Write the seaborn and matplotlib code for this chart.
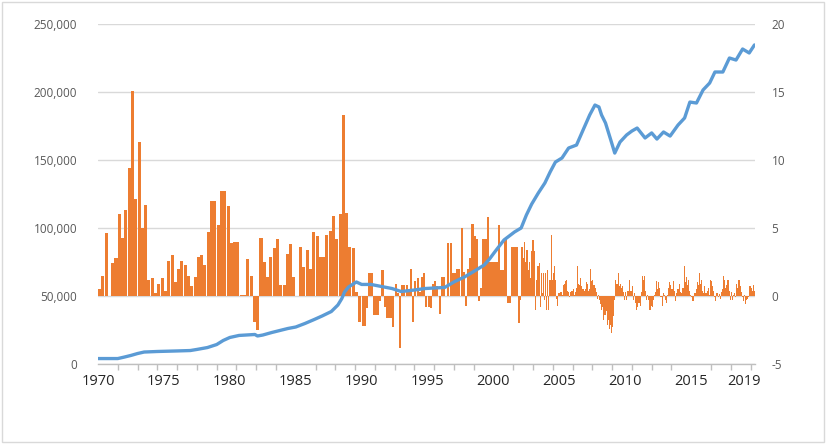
import numpy as np
import pandas as pd
import matplotlib
matplotlib.use("Agg")
import matplotlib.pyplot as plt
from matplotlib.ticker import FuncFormatter, FixedLocator
from matplotlib.patches import Rectangle
import seaborn as sns

# ---------------- data ----------------
# blue line (left axis): level
line_years = [1970.0, 1971.5, 1972.0, 1972.5, 1973.0, 1973.5, 1974.5, 1976.0, 1977.0, 1977.5,
              1978.3, 1979.0, 1979.5, 1980.0, 1980.7, 1981.9, 1982.1, 1982.5, 1983.2, 1984.4,
              1985.0, 1985.7, 1986.4, 1987.0, 1987.7, 1988.2, 1988.5, 1988.7, 1989.0, 1989.6,
              1990.0, 1990.7, 1991.5, 1992.3, 1993.0, 1994.0, 1994.8, 1996.3, 1997.0, 1997.8,
              1998.5, 1999.3, 1999.7, 2000.1, 2000.8, 2001.6, 2002.1, 2002.5, 2002.9, 2003.4,
              2003.9, 2004.3, 2004.7, 2005.2, 2005.7, 2006.3, 2006.8, 2007.3, 2007.7, 2008.0,
              2008.2, 2008.5, 2008.9, 2009.2, 2009.6, 2010.1, 2010.5, 2010.9, 2011.5, 2012.0,
              2012.4, 2012.9, 2013.4, 2014.0, 2014.5, 2014.9, 2015.4, 2015.9, 2016.4, 2016.8,
              2017.4, 2017.9, 2018.4, 2018.9, 2019.4, 2019.8]
line_values = [4000, 4000, 5100, 6300, 7700, 8800, 9200, 9600, 9900, 10700,
               12100, 14300, 17300, 19500, 21000, 21700, 20600, 21300, 23200, 26100,
               27200, 29800, 32700, 35300, 38600, 43400, 48200, 52900, 56600, 60300,
               58500, 58500, 57000, 55500, 53300, 54400, 55500, 56300, 60300, 64000,
               68000, 72800, 77200, 82400, 91200, 97100, 100000, 109600, 117600, 125700,
               133100, 141200, 148500, 151500, 158800, 161000, 172100, 183100, 190400, 189000,
               183100, 177200, 164700, 155100, 163200, 168400, 171300, 173500, 166200, 169900,
               165400, 170600, 167600, 175700, 180900, 192600, 191900, 201500, 206600, 214700,
               214700, 225000, 223500, 231600, 228700, 234600]

# orange bars (right axis): change, quarterly 1970-1989
quarterly_start = 1970.0
quarterly_changes = [0.5, 1.5, 4.6, 0.0, 2.4, 2.8, 6.0, 4.3, 6.3, 9.4,
                     15.1, 7.1, 11.3, 5.0, 6.7, 1.2, 1.3, 0.2, 0.9, 1.3,
                     0.4, 2.6, 3.0, 1.0, 2.0, 2.6, 2.3, 1.5, 0.7, 1.4,
                     2.9, 3.0, 2.3, 4.7, 7.0, 7.0, 5.2, 7.7, 7.7, 6.6,
                     3.9, 4.0, 4.0, 0.1, 0.1, 2.7, 1.5, -1.9, -2.5, 4.3,
                     2.5, 1.4, 2.9, 3.5, 4.2, 0.8, 0.8, 3.1, 3.8, 1.4,
                     0.0, 3.6, 2.1, 3.4, 2.0, 4.7, 4.4, 2.9, 2.9, 4.5,
                     4.8, 5.9, 4.2, 6.0, 13.3, 6.1, 3.6, 3.5, 0.3, -1.9]
# bi-monthly 1990-2001
bimonthly_start = 1990.0
bimonthly_changes = [-2.2, -2.2, -0.9, 1.7, 1.7, -1.4, -1.4, -1.4, -0.4, 1.9,
                     -0.8, -1.6, -1.6, -1.6, -2.3, 0.9, 0.2, -3.8, 0.8, 0.8,
                     0.8, 0.3, 2.0, -1.9, 1.1, 1.3, 0.3, 1.4, 1.7, -0.8,
                     -0.8, -0.9, 0.9, 1.1, 0.7, -1.3, 1.4, 1.4, 0.0, 3.9,
                     3.9, 1.7, 1.7, 2.0, 2.0, 5.0, 1.8, -0.7, 2.0, 2.8,
                     5.3, 4.4, 4.2, -0.4, 0.6, 4.2, 4.2, 5.8, 2.5, 2.5,
                     2.5, 2.5, 5.2, 1.9, 1.9, 4.2, -0.5, -0.5, 3.6, 3.6,
                     3.6, -2.0]
# monthly 2002-2019
monthly_start = 2002.0
monthly_changes = [
    -0.3, 3.6, 3.6, 2.8, 4.0, 2.5, 3.4, 1.9, 2.5, 1.3, 3.3, 4.1,
    4.1, 3.3, -1.0, 1.2, 2.2, 2.4, -0.8, 1.7, 0.2, 1.7, -0.3, 1.7,
    -1.0, 1.9, -1.0, 1.2, 4.5, 1.2, 1.7, 2.2, 1.2, -0.2, -0.7, 0.2,
    0.2, 0.3, 0.1, 0.8, 0.9, 1.1, 1.2, 0.4, 0.3, -0.1, 0.3, 0.4,
    0.5, 0.1, 0.3, 0.6, 2.2, 0.9, 0.8, 1.3, 0.7, 0.5, 0.4, 0.5,
    1.0, 0.9, 0.4, 0.5, 2.0, 1.1, 1.2, 0.8, 0.6, 0.3, -0.2, 0.1,
    -0.3, -0.6, -1.0, -0.8, -1.8, -1.4, -1.1, -2.1, -1.8, -2.4, -2.1, -2.7,
    -2.3, -1.5, -0.3, 1.2, 0.9, 1.7, 0.7, 0.9, 0.6, 0.7, 0.3, -0.3,
    0.3, -0.3, 0.4, 1.2, 0.4, 0.4, 0.7, -0.3, 0.2, -0.5, -1.0, -0.8,
    -0.5, -0.7, 0.3, 1.5, 1.2, 1.5, 0.4, -0.3, 0.1, -0.3, -1.0, -0.7,
    -0.8, -0.3, 0.1, 0.3, 1.1, 0.5, 1.0, 0.6, -0.1, -0.7, 0.2, 0.1,
    -0.3, -0.5, 0.1, 0.6, 1.0, 0.8, 0.5, 1.1, 0.4, -0.4, 0.2, 0.5,
    0.5, 0.9, 0.3, 0.2, 0.6, 2.2, 1.0, 1.4, 0.8, 1.2, 0.4, 0.1,
    -0.1, -0.4, -0.4, 0.2, 0.5, 1.0, 0.8, 1.7, 0.9, 1.2, 0.4, 0.2,
    0.7, 0.2, 0.4, 0.6, 0.1, 1.2, 1.1, 0.7, 0.4, -0.1, -0.4, 0.2,
    -0.1, 0.15, -0.25, 0.3, 0.5, 1.5, 1.2, 0.6, 0.8, 1.2, 0.4, -0.3,
    0.3, -0.3, 0.1, 0.2, -0.1, 0.9, 0.6, 1.2, 0.7, 0.3, -0.1, -0.4,
    0.1, -0.6, -0.3, -0.2, -0.1, 0.7, 0.6, 0.4, 0.8, 0.4]

x_label_years = [1970, 1975, 1980, 1985, 1990, 1995, 2000, 2005, 2010, 2015, 2019]
x_labels = [str(y) for y in x_label_years]
left_ticks = [0, 50000, 100000, 150000, 200000, 250000]
right_ticks = [-5, 0, 5, 10, 15, 20]

# ---------------- style ----------------
sns.set_theme(style="white")
plt.rcParams['font.family'] = ['Open Sans', 'DejaVu Sans']

BLUE = "#5B9BD5"
ORANGE = "#ED7D31"
GRID = "#D9D9D9"
LABEL_GRAY = "#595959"

W, H = 827, 445
fig = plt.figure(figsize=(W / 100, H / 100), dpi=100)
left, right, top, bottom = 98, 755, 24, 364
ax1 = fig.add_axes([left / W, 1 - bottom / H, (right - left) / W, (bottom - top) / H])
ax2 = ax1.twinx()

# bars on right axis
segments = [(quarterly_start, 0.25, 0.92, quarterly_changes),
            (bimonthly_start, 1 / 6, 0.95, bimonthly_changes),
            (monthly_start, 1 / 12, 1.0, monthly_changes)]
for start, step, frac, vals in segments:
    pos = start + step * np.arange(len(vals))
    ax2.bar(pos, vals, width=step * frac, align="edge", color=ORANGE,
            edgecolor="none", linewidth=0, zorder=2)

# line on left axis
df_line = pd.DataFrame({"year": line_years, "value": line_values})
sns.lineplot(data=df_line, x="year", y="value", ax=ax1, color=BLUE,
             linewidth=2.4, estimator=None, sort=False, zorder=3)

ax1.set_zorder(ax2.get_zorder() + 1)
ax1.patch.set_visible(False)

xmin, xmax = 1970.0, 2019.84
ax1.set_xlim(xmin, xmax)
ax1.set_ylim(0, 250000)
ax2.set_ylim(-5, 20)

ax1.set_yticks(left_ticks)
ax1.yaxis.set_major_formatter(FuncFormatter(lambda v, p: f"{int(v):,}"))
ax2.set_yticks(right_ticks)
ax2.set_yticklabels([str(t) for t in right_ticks])

# grid drawn behind bars
ax2.grid(True, axis="y", color=GRID, linewidth=1.0)
ax2.set_axisbelow(True)
ax1.grid(False)
ax2.grid(False, axis="x")

ax1.set_xlabel("")
ax1.set_ylabel("")
ax2.set_ylabel("")

for a in (ax1, ax2):
    for s in ("top", "left", "right", "bottom"):
        a.spines[s].set_visible(False)
ax1.spines["bottom"].set_visible(True)
ax1.spines["bottom"].set_color("#BFBFBF")
ax1.spines["bottom"].set_linewidth(1.0)

ax1.tick_params(axis="y", length=0, pad=15, labelsize=8.5, labelcolor=LABEL_GRAY)
ax2.tick_params(axis="y", length=0, pad=12, labelsize=8.5, labelcolor=LABEL_GRAY)

ax1.xaxis.set_major_locator(FixedLocator(x_label_years))
ax1.set_xticklabels(x_labels)
minor_ticks = [xmin + 1.5 * k for k in range(int((xmax - xmin) / 1.5) + 1)]
ax1.xaxis.set_minor_locator(FixedLocator(minor_ticks))
ax1.tick_params(axis="x", which="major", length=0, pad=7, labelsize=10.5, labelcolor="#262626")
ax1.tick_params(axis="x", which="minor", length=4, width=1.0, color="#BFBFBF", bottom=True)

fig.add_artist(Rectangle((2 / W, 3 / H), 822 / W, 440 / H, transform=fig.transFigure,
                         fill=False, edgecolor="#D9D9D9", linewidth=1.0))

fig.savefig("out.png", dpi=100)
